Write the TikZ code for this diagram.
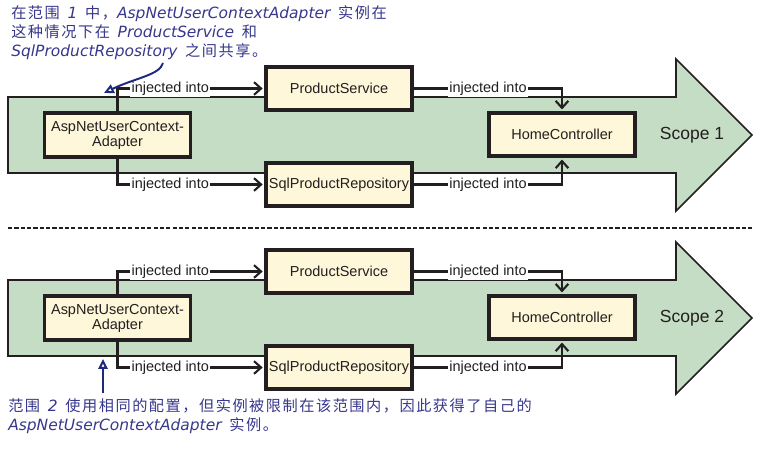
\documentclass[tikz,border=0pt]{standalone}
\usepackage{fontspec}
\setmainfont{Liberation Sans}
\newfontfamily\cjk{Noto Sans CJK SC}[LetterSpace=10]
\newfontfamily\hand{DejaVu Sans}
\usepackage{xcolor}
\usetikzlibrary{arrows.meta, positioning}
\definecolor{ink}{RGB}{35,31,32}
\definecolor{scopegreen}{RGB}{196,221,196}
\definecolor{cream}{RGB}{254,247,218}
\definecolor{annot}{RGB}{55,55,140}
\definecolor{annotline}{RGB}{30,40,125}
\newcommand{\code}[1]{{\hand\itshape\fontsize{11}{13.8}\selectfont #1}}
\newcommand{\notefont}{\cjk\fontsize{10.8}{13.8}\selectfont\spaceskip=5.5pt\relax}

\begin{document}
\begin{tikzpicture}[x=0.025cm, y=-0.025cm, font=\fontsize{10.3}{10.7}\selectfont, text=ink,
	compbox/.style={draw=ink, line width=2.6pt, fill=cream, minimum width=104pt,
		minimum height=31pt, inner sep=1pt, align=center},
	inject/.style={draw=ink, line width=1.5pt, shorten >=1pt,
		-{Straight Barb[length=5pt,width=9pt]}},
	injlabel/.style={fill=white, inner sep=1pt},
	note/.style={text=annot, align=left, anchor=north west, inner sep=0pt,
		font=\notefont},
	notearrow/.style={draw=annotline, line width=1.4pt,
		-{Triangle[open,length=7pt,width=6.5pt]}}]
	\useasboundingbox (0,0) rectangle (767,452);

	\foreach \s/\y in {1/135, 2/318} {
		% the scope arrow
		\draw[ink, line width=1.1pt, fill=scopegreen]
		(8,\y-38) -- (676,\y-38) -- (676,\y-76) -- (752,\y)
		-- (676,\y+76) -- (676,\y+38) -- (8,\y+38) -- cycle;
		\node (scope\s) at (692,\y) {\fontsize{12.45}{14}\selectfont Scope \s};

		\node[compbox] (asp\s) at (117.5,\y) {AspNetUserContext-\\Adapter};
		\node[compbox] (ps\s) at (339,\y-46.5) {ProductService};
		\node[compbox] (spr\s) at (339,\y+49.5) {SqlProductRepository};
		\node[compbox] (hc\s) at (562,\y-0.5) {HomeController};

		\draw[inject] (asp\s.north) |- node[injlabel, pos=0.68] {injected into} (ps\s.west);
		\draw[inject] (asp\s.south) |- node[injlabel, pos=0.68] {injected into} (spr\s.west);
		\draw[inject] (ps\s.east) -| node[injlabel, pos=0.25] {injected into} (hc\s.north);
		\draw[inject] (spr\s.east) -| node[injlabel, pos=0.25] {injected into} (hc\s.south);
	}

	\draw[ink, line width=1.1pt, dash pattern=on 3pt off 1.5pt] (8,228) -- (752,228);

	% notes
	\node[note] (note1) at (11,5)
	{在范围 \code{1} 中，\code{AspNetUserContextAdapter} 实例在\\
		这种情况下在 \code{ProductService} 和\\
		\code{SqlProductRepository} 之间共享。};
	\coordinate (tail1) at (163,63);
	\coordinate (tip1) at (104,93);
	\draw[notearrow] (tail1) .. controls (160,75) and (135,78) .. (tip1);

	\coordinate (tail2) at (103,393);
	\coordinate (tip2) at (103,359);
	\draw[notearrow] (tail2) -- (tip2);
	\node[note] (note2) at (8,398)
	{范围 \code{2} 使用相同的配置，但实例被限制在该范围内，因此获得了自己的\\
		\code{AspNetUserContextAdapter} 实例。};
\end{tikzpicture}
\end{document}
